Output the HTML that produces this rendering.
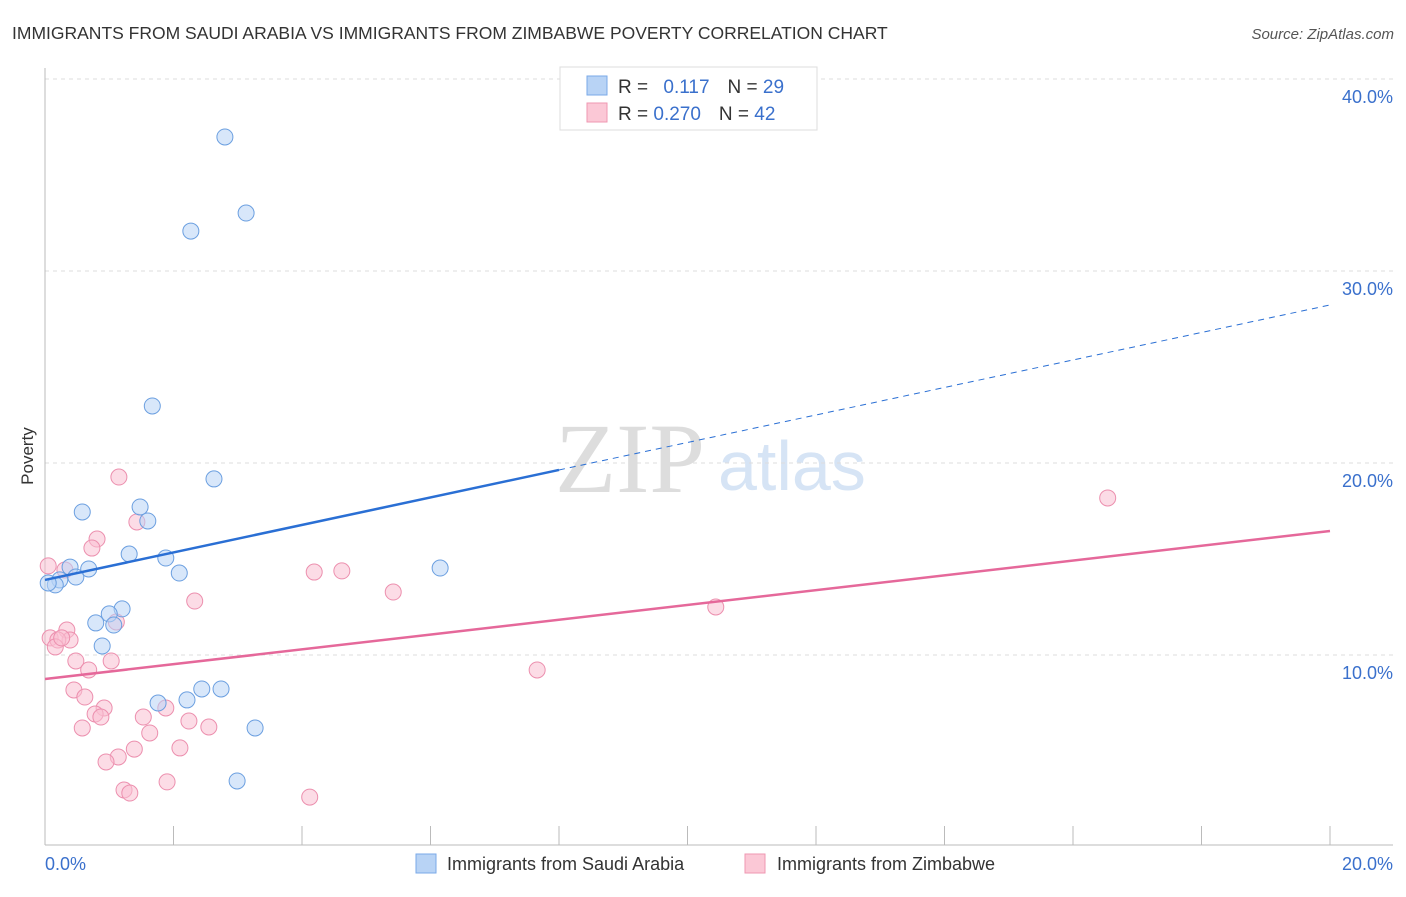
<!DOCTYPE html>
<html><head><meta charset="utf-8"><style>
body{margin:0;background:#fff;font-family:"Liberation Sans",sans-serif}
</style></head><body>
<svg id="c" width="1406" height="892" xmlns="http://www.w3.org/2000/svg" style="font-family:'Liberation Sans',sans-serif">
<text x="12" y="39" font-size="17.5" fill="#333">IMMIGRANTS FROM SAUDI ARABIA VS IMMIGRANTS FROM ZIMBABWE POVERTY CORRELATION CHART</text>
<text x="1394" y="39" font-size="15" fill="#555" font-style="italic" text-anchor="end">Source: ZipAtlas.com</text>
<text x="555" y="492" font-size="100" fill="#ddd" font-family="Liberation Serif,serif">ZIP</text>
<text x="718" y="490" font-size="70" fill="#d6e4f5">atlas</text>
<text x="33" y="456" font-size="17" fill="#333" transform="rotate(-90 33 456)" text-anchor="middle">Poverty</text>
<g id="grid"></g><g id="marks"></g>
<g>
<rect x="560" y="67" width="257" height="63" fill="#fff" stroke="#ddd"/>
<rect x="587" y="76" width="20" height="19" fill="#b8d3f5" stroke="#7aaae8"/>
<rect x="587" y="103" width="20" height="19" fill="#fbc8d6" stroke="#ef97b2"/>
<text x="618" y="93" font-size="19" fill="#333">R = <tspan fill="#3a70cc" dx="10">0.117</tspan><tspan dx="18" fill="#333">N = </tspan><tspan fill="#3a70cc">29</tspan></text>
<text x="618" y="120" font-size="19" fill="#333">R = <tspan fill="#3a70cc">0.270</tspan><tspan dx="18" fill="#333">N = </tspan><tspan fill="#3a70cc">42</tspan></text>
</g>
<g>
<rect x="416" y="854" width="20" height="19" fill="#b8d3f5" stroke="#7aaae8"/>
<text x="447" y="870" font-size="18" fill="#333">Immigrants from Saudi Arabia</text>
<rect x="745" y="854" width="20" height="19" fill="#fbc8d6" stroke="#ef97b2"/>
<text x="777" y="870" font-size="18" fill="#333">Immigrants from Zimbabwe</text>
</g>
</svg>
<script>
const yTicks=[10,20,30,40];
const yTickLabels=["10.0%","20.0%","30.0%","40.0%"];
const xTickLabels=["0.0%","20.0%"];
const blueX=[2.80,3.13,2.27,1.67,2.63,0.58,1.48,1.60,1.31,1.88,2.09,0.68,0.39,0.48,0.23,0.16,0.05,1.20,1.00,0.79,1.07,0.89,6.15,1.76,2.21,2.44,2.74,3.27,2.99];
const blueY=[36.98,33.02,32.08,22.97,19.17,17.45,17.71,16.98,15.26,15.05,14.27,14.48,14.58,14.06,13.91,13.65,13.75,12.40,12.14,11.67,11.56,10.47,14.53,7.50,7.66,8.23,8.23,6.20,3.44];
const pinkX=[1.15,0.81,0.73,1.43,0.31,4.19,4.62,5.42,2.33,10.44,16.54,0.05,0.34,0.39,0.08,0.20,0.16,0.26,0.48,0.68,1.03,1.11,7.66,0.45,0.62,0.92,0.78,0.87,1.53,1.88,2.24,2.55,1.63,0.58,2.10,1.14,1.39,0.95,1.23,1.32,1.90,4.12];
const pinkY=[19.27,16.04,15.57,16.93,14.43,14.32,14.38,13.28,12.81,12.50,18.18,14.64,11.30,10.78,10.89,10.78,10.42,10.89,9.69,9.22,9.69,11.72,9.22,8.18,7.81,7.24,6.93,6.77,6.77,7.24,6.56,6.25,5.94,6.20,5.16,4.69,5.10,4.43,2.97,2.81,3.39,2.60];
const blueTrend=[13.91,28.23];
const pinkTrend=[8.75,16.46];
const NS="http://www.w3.org/2000/svg";
const X=v=>45+v*64.25, Y=v=>847-v*19.2;
function mk(t,a,p){const e=document.createElementNS(NS,t);for(const k in a)e.setAttribute(k,a[k]);p.appendChild(e);return e;}
const g=document.getElementById('grid'),m=document.getElementById('marks');
yTicks.forEach((t,i)=>{
 const l=mk('line',{x1:45,x2:1393,y1:Y(t),y2:Y(t),stroke:'#ddd','stroke-dasharray':'4,4'},g);
 
 
 const tx=mk('text',{x:1393,y:Y(t)+24,'font-size':18,fill:'#3a70cc','text-anchor':'end'},g);tx.textContent=yTickLabels[i];
 
 
});
mk('line',{x1:45,x2:45,y1:68,y2:845,stroke:'#bbb'},g);
mk('line',{x1:45,x2:1393,y1:845,y2:845,stroke:'#bbb'},g);
for(let i=1;i<=10;i++){const tk=mk('line',{x1:X(i*2),x2:X(i*2),y1:826,y2:845,stroke:'#bbb'},g);
 
 }
[[0,45,'start'],[20,1393,'end']].forEach((d,i)=>{const tx=mk('text',{x:d[1],y:870,'font-size':18,fill:'#3a70cc','text-anchor':d[2]},g);tx.textContent=xTickLabels[i];
 
 });
function pts(xs,ys,f,s,name){xs.forEach((x,i)=>{const c=mk('circle',{cx:X(x),cy:Y(ys[i]),r:8,fill:f,'fill-opacity':0.55,stroke:s,'stroke-width':1},m);
 
 });}
pts(pinkX,pinkY,'#f9c0d1','#ec8fae','point-zimbabwe');
pts(blueX,blueY,'#b8d3f5','#6b9fe0','point-saudi-arabia');
const bMid=blueTrend[0]+(blueTrend[1]-blueTrend[0])*0.4;
let l=mk('line',{x1:X(0),y1:Y(blueTrend[0]),x2:X(8),y2:Y(bMid),stroke:'#2a6fd4','stroke-width':2.5},m);


l=mk('line',{x1:X(8),y1:Y(bMid),x2:X(20),y2:Y(blueTrend[1]),stroke:'#2a6fd4','stroke-width':1,'stroke-dasharray':'6,5'},m);


l=mk('line',{x1:X(0),y1:Y(pinkTrend[0]),x2:X(20),y2:Y(pinkTrend[1]),stroke:'#e5689a','stroke-width':2.5},m);


</script>
</body></html>
